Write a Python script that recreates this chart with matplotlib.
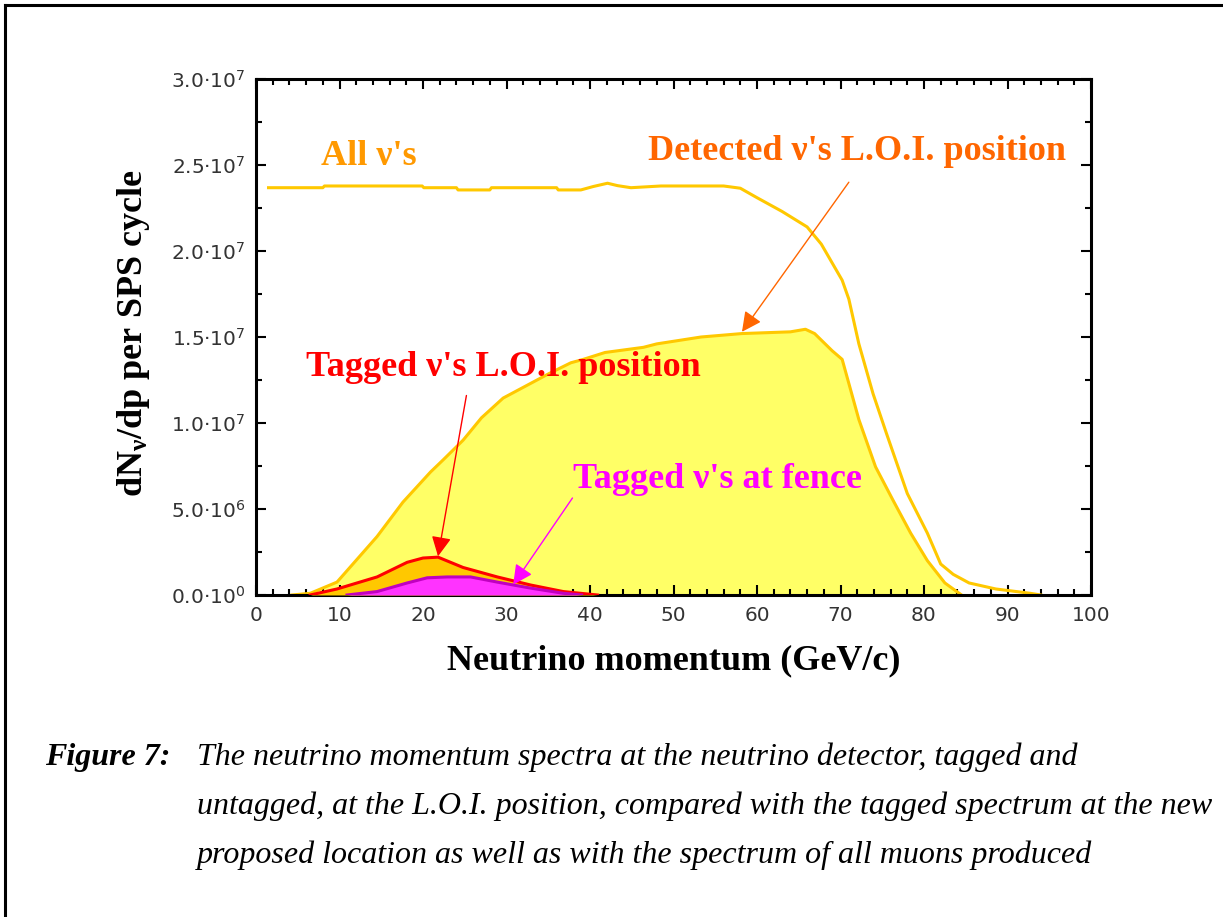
import matplotlib
matplotlib.use("Agg")
import matplotlib.pyplot as plt
import numpy as np
from matplotlib.lines import Line2D
from matplotlib.ticker import FuncFormatter, MultipleLocator

# spectra, y in units of 1e6 neutrinos per GeV/c
ALL_X = [1.5, 8.0, 8.2, 19.9, 20.1, 24.0, 24.2, 28.0, 28.2, 36.0, 36.2, 38.9,
         40.4, 42.1, 43.3, 44.9, 48.5, 56.0, 58.0, 60.0, 63.0, 66.0, 67.7,
         70.2, 71.0, 72.2, 73.9, 75.5, 78.0, 80.4, 82.0, 83.5, 85.4, 88.6,
         92.7, 94.0]
ALL_Y = [23.68, 23.68, 23.78, 23.78, 23.68, 23.68, 23.55, 23.55, 23.68, 23.68,
         23.55, 23.55, 23.75, 23.94, 23.8, 23.68, 23.78, 23.78, 23.65, 23.1,
         22.3, 21.4, 20.4, 18.3, 17.2, 14.6, 11.7, 9.4, 5.9, 3.6, 1.8, 1.2,
         0.7, 0.35, 0.1, 0.0]

DET_X = [4.3, 6.5, 9.7, 14.5, 17.6, 20.9, 22.4, 24.8, 27.0, 29.6, 35.2, 37.7,
         39.2, 41.8, 46.4, 48.0, 53.3, 58.2, 64.0, 65.8, 66.9, 69.0, 70.2,
         71.0, 72.2, 74.2, 76.3, 78.4, 80.4, 82.5, 84.5]
DET_Y = [0.0, 0.1, 0.75, 3.4, 5.4, 7.15, 7.85, 9.0, 10.3, 11.45, 12.9, 13.5,
         13.7, 14.1, 14.4, 14.6, 15.0, 15.2, 15.3, 15.45, 15.2, 14.2, 13.7,
         12.3, 10.2, 7.45, 5.5, 3.6, 2.0, 0.7, 0.0]

TAG_X = [6.5, 9.7, 14.5, 18.1, 20.0, 21.8, 24.8, 28.9, 32.9, 36.8, 40.9]
TAG_Y = [0.0, 0.35, 1.05, 1.9, 2.15, 2.2, 1.6, 1.05, 0.58, 0.2, 0.0]

FENCE_X = [10.9, 14.5, 18.1, 20.5, 22.9, 25.7, 28.9, 32.9, 36.8, 39.0]
FENCE_Y = [0.0, 0.2, 0.7, 1.0, 1.05, 1.05, 0.75, 0.4, 0.1, 0.0]

X_TICKS = [0, 10, 20, 30, 40, 50, 60, 70, 80, 90, 100]
Y_TICKS = [0.0, 5e6, 1e7, 1.5e7, 2e7, 2.5e7, 3e7]

CAPTION = [
    "The neutrino momentum spectra at the neutrino detector, tagged and",
    "untagged, at the L.O.I. position, compared with the tagged spectrum at the new",
    "proposed location as well as with the spectrum of all muons produced",
]

COLOR_ALL = "#ffc800"
COLOR_DET_FILL = "#ffff66"
COLOR_TAG_FILL = "#ffc800"
COLOR_TAG_EDGE = "#ff0000"
COLOR_FENCE_FILL = "#ff33ff"
COLOR_FENCE_EDGE = "#c000c0"

SCALE = 1e6

plt.rcParams["font.family"] = ["Liberation Serif", "DejaVu Serif"]
plt.rcParams["mathtext.fontset"] = "custom"
plt.rcParams["mathtext.rm"] = "Liberation Serif:bold"
plt.rcParams["mathtext.bf"] = "Liberation Serif:bold"
plt.rcParams["mathtext.it"] = "Liberation Serif:bold"
plt.rcParams["mathtext.sf"] = "DejaVu Sans"

W, H = 1223, 917
fig = plt.figure(figsize=(W / 100, H / 100), dpi=100)
ax = fig.add_axes([256 / W, 1 - 595 / H, (1091 - 256) / W, (595 - 79) / H])


def sci_label(value, _pos):
    if value == 0:
        return r"0.0·10$^{\mathsf{0}}$"
    exp = int(np.floor(np.log10(value)))
    return f"{value / 10 ** exp:.1f}·10" + r"$^{\mathsf{" + str(exp) + r"}}$"


det_y = np.array(DET_Y) * SCALE
ax.fill_between(DET_X, det_y, color=COLOR_DET_FILL, lw=0, zorder=1)
ax.plot(DET_X, det_y, color=COLOR_ALL, lw=2.2, zorder=2)
ax.plot(ALL_X, np.array(ALL_Y) * SCALE, color=COLOR_ALL, lw=2.2, zorder=2)

tag_y = np.array(TAG_Y) * SCALE
ax.fill_between(TAG_X, tag_y, color=COLOR_TAG_FILL, lw=0, zorder=3)
ax.plot(TAG_X, tag_y, color=COLOR_TAG_EDGE, lw=2.2, zorder=4)

fence_y = np.array(FENCE_Y) * SCALE
ax.fill_between(FENCE_X, fence_y, color=COLOR_FENCE_FILL, lw=0, zorder=5)
ax.plot(FENCE_X, fence_y, color=COLOR_FENCE_EDGE, lw=2.2, zorder=6)

label_kw = dict(fontsize=26, fontweight="bold", ha="center", va="center", zorder=8)
ax.text(13.5, 25.5e6, "All ν's", color="#ff9900", **label_kw)
ax.text(72.0, 25.8e6, "Detected ν's L.O.I. position", color="#ff6600", **label_kw)
ax.text(29.6, 13.2e6, "Tagged ν's L.O.I. position", color="#ff0000", **label_kw)
ax.text(55.3, 6.7e6, "Tagged ν's at fence", color="#ff00ff", **label_kw)

arrows = [
    ((71.0, 24.0e6), (58.2, 15.3e6), "#ff6600"),
    ((25.2, 11.6e6), (21.8, 2.25e6), "#ff0000"),
    ((37.9, 5.64e6), (30.8, 0.6e6), "#ff00ff"),
]
for start, end, color in arrows:
    ax.annotate(
        "", xy=end, xytext=start,
        arrowprops=dict(arrowstyle="-|>,head_length=0.6,head_width=0.3",
                        color=color, lw=1.0, mutation_scale=20,
                        shrinkA=0, shrinkB=0),
        zorder=9,
    )

ax.set_xlim(0, 100)
ax.set_ylim(0, 3e7)
ax.set_xticks(X_TICKS)
ax.set_yticks(Y_TICKS)
ax.xaxis.set_minor_locator(MultipleLocator(2))
ax.yaxis.set_minor_locator(MultipleLocator(2.5e6))
ax.yaxis.set_major_formatter(FuncFormatter(sci_label))
ax.tick_params(which="both", direction="in", top=True, right=True, width=1.5,
               colors="black", labelcolor="#333333", labelsize=14.5)
ax.tick_params(which="major", length=7, pad=8)
ax.tick_params(which="minor", length=4)
for lab in ax.get_xticklabels() + ax.get_yticklabels():
    lab.set_fontfamily("DejaVu Sans")
for spine in ax.spines.values():
    spine.set_linewidth(2.2)

ax.set_xlabel("Neutrino momentum (GeV/c)", fontsize=26, fontweight="bold", va="center")
ax.xaxis.set_label_coords(0.5, -0.128)
ax.set_ylabel(r"dN$_{\mathbf{\nu}}$/dp per SPS cycle", fontsize=26,
              fontweight="bold", va="center")
ax.yaxis.set_label_coords(-0.147, 0.508)

# page frame around the figure
fig.add_artist(Line2D([5 / W, 1.0], [1 - 5 / H, 1 - 5 / H], color="black", lw=2.2,
                      transform=fig.transFigure))
fig.add_artist(Line2D([5 / W, 5 / W], [1 - 5 / H, 0.0], color="black", lw=2.2,
                      transform=fig.transFigure))

fig.text(45 / W, 1 - 765 / H, "Figure 7:", fontsize=23, fontweight="bold",
         fontstyle="italic", va="baseline")
for i, line in enumerate(CAPTION):
    fig.text(197 / W, 1 - (765 + 49 * i) / H, line, fontsize=23,
             fontstyle="italic", va="baseline")

fig.savefig("out.png", dpi=100)
